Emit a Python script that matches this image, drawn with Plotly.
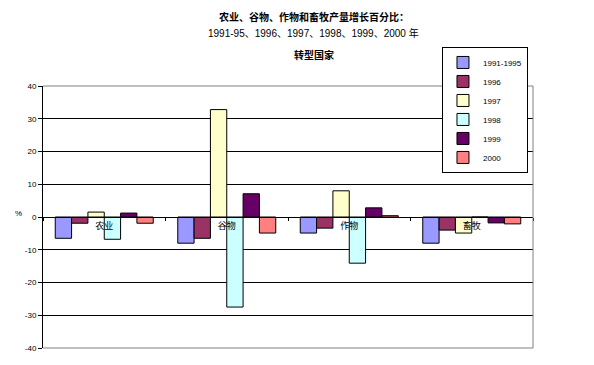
import plotly.graph_objects as go

categories = ["农业", "谷物", "作物", "畜牧"]
series_names = ["1991-1995", "1996", "1997", "1998", "1999", "2000"]
v_1991_95 = [-6.5, -8.0, -4.9, -8.0]
v_1996 = [-1.9, -6.5, -3.4, -4.0]
v_1997 = [1.5, 32.8, 8.0, -4.9]
v_1998 = [-6.8, -27.5, -14.1, 0.0]
v_1999 = [1.2, 7.1, 2.8, -1.8]
v_2000 = [-1.9, -4.9, 0.4, -2.1]
series_values = [v_1991_95, v_1996, v_1997, v_1998, v_1999, v_2000]
colors = ["#9999FF", "#993366", "#FFFFCC", "#CCFFFF", "#660066", "#FF8080"]
y_tick_vals = [-40, -30, -20, -10, 0, 10, 20, 30, 40]
y_tick_text = ["-40", "-30", "-20", "-10", "0", "10", "20", "30", "40"]

title_lines = ["<b>农业、谷物、作物和畜牧产量增长百分比：</b>",
               "1991-95、1996、1997、1998、1999、2000 年",
               "<b>转型国家</b>"]

FONT = "Arial, 'Liberation Sans', 'Noto Sans CJK SC'"

fig = go.Figure()
for name, vals, c in zip(series_names, series_values, colors):
    fig.add_trace(go.Bar(x=categories, y=vals, name=name,
                         marker=dict(color=c, line=dict(color="black", width=1))))

fig.update_layout(
    width=594, height=365,
    margin=dict(l=43, r=61, t=86, b=17),
    paper_bgcolor="white", plot_bgcolor="white",
    barmode="group", bargap=0.2, bargroupgap=0,
    font=dict(family=FONT, size=8, color="black"),
    showlegend=True,
    legend=dict(x=0.902, xanchor="center", y=1.149, yanchor="top",
                bgcolor="white", bordercolor="black", borderwidth=1,
                font=dict(size=8), itemwidth=30, tracegroupgap=0,
                itemclick=False),
    xaxis=dict(anchor="free", position=0.5, showline=True, linecolor="black",
               linewidth=1, ticks="outside", tickson="boundaries", ticklen=3,
               tickcolor="black", tickfont=dict(size=9), showgrid=False,
               zeroline=False),
    yaxis=dict(range=[-40, 40], tickvals=y_tick_vals, ticktext=y_tick_text,
               showgrid=True, gridcolor="black", gridwidth=1, zeroline=True,
               zerolinecolor="black", zerolinewidth=1, showline=True,
               linecolor="black", ticks="outside", ticklen=4,
               tickcolor="black", tickfont=dict(size=8)),
)

title_y = [1.263, 1.202, 1.118]
for t, yy in zip(title_lines, title_y):
    fig.add_annotation(text=t, x=0.553, y=yy, xref="paper", yref="paper",
                       showarrow=False, font=dict(size=10, family=FONT),
                       xanchor="center", yanchor="middle")

fig.add_annotation(text="%", x=-0.061, y=0.515, xref="paper", yref="paper",
                   showarrow=False, font=dict(size=8, family=FONT))

fig.add_shape(type="line", xref="paper", yref="paper", x0=1, x1=1, y0=0, y1=1,
              line=dict(color="#808080", width=1))
fig.add_shape(type="line", xref="paper", yref="paper", x0=0, x1=1, y0=1, y1=1,
              line=dict(color="#808080", width=1))
fig.add_shape(type="line", xref="paper", yref="paper", x0=0, x1=1, y0=0, y1=0,
              line=dict(color="#808080", width=1))

fig.write_html("out.html", config={"displayModeBar": False},
               post_script="document.body.style.margin='0';")
